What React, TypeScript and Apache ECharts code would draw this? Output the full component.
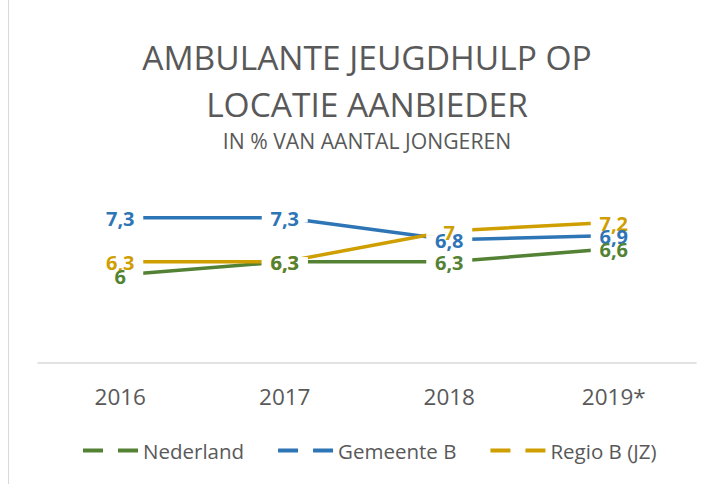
import React, { useEffect, useRef } from "react";
import * as echarts from "echarts";

const categories = ["2016", "2017", "2018", "2019*"];
const nederland = [6, 6.3, 6.3, 6.6];
const gemeenteB = [7.3, 7.3, 6.8, 6.9];
const regioB = [6.3, 6.3, 7, 7.2];

const seriesNames = ["Nederland", "Gemeente B", "Regio B (JZ)"];
const seriesColors = ["#548235", "#2E75B6", "#CF9E00"];
const seriesData = [nederland, gemeenteB, regioB];

const fmt = (v: number) => String(v).replace(".", ",");

export default function App() {
  const ref = useRef<HTMLDivElement>(null);
  useEffect(() => {
    if (!ref.current) return;
    const chart = echarts.init(ref.current, undefined, { renderer: "svg" });
    const lineSeries = seriesData.map((d, i) => ({
      type: "line",
      name: seriesNames[i],
      data: d,
      z: 2,
      showSymbol: false,
      symbol: "none",
      lineStyle: { color: seriesColors[i], width: 3.5 },
      itemStyle: { color: seriesColors[i] },
      silent: true,
    }));
    const gapSeries = seriesData.map((d, i) => ({
      type: "scatter",
      name: "gap" + i,
      data: d,
      z: 3,
      symbol: "rect",
      symbolSize: [46, 9],
      itemStyle: { color: "#ffffff", opacity: 1 },
      silent: true,
    }));
    // label order: gold first, then blue, then green on top
    const labelOrder = [2, 1, 0];
    const labelSeries = labelOrder.map((i, k) => ({
      type: "scatter",
      name: "label" + i,
      data: seriesData[i],
      z: 4 + k,
      symbolSize: 0,
      silent: true,
      itemStyle: { color: seriesColors[i], opacity: 1 },
      label: {
        show: true,
        position: "inside",
        offset: [0, 1],
        color: seriesColors[i],
        opacity: 1,
        textBorderWidth: 0,
        fontFamily: "Open Sans",
        fontWeight: "bold",
        fontSize: 20,
        formatter: (p: any) => fmt(p.value),
      },
    }));
    chart.setOption({
      animation: false,
      backgroundColor: "#ffffff",
      title: {
        text: "AMBULANTE JEUGDHULP OP\nLOCATIE AANBIEDER",
        subtext: "IN % VAN AANTAL JONGEREN",
        left: 362,
        textAlign: "center",
        top: 28,
        itemGap: 1,
        textStyle: {
          fontFamily: "Open Sans",
          fontWeight: "normal",
          fontSize: 33.5,
          lineHeight: 47,
          color: "#595959",
        },
        subtextStyle: {
          fontFamily: "Open Sans",
          fontSize: 21.2,
          lineHeight: 24,
          color: "#595959",
        },
      },
      legend: {
        data: seriesNames,
        left: 83,
        top: 440,
        padding: 0,
        itemWidth: 55,
        itemHeight: 4,
        itemGap: 34,
        icon: "path://M0,0H20V4H0Z M35,0H55V4H35Z",
        textStyle: {
          fontFamily: "Open Sans",
          fontSize: 20.5,
          color: "#595959",
        },
      },
      grid: { left: 38, right: 23, top: 187, bottom: 121 },
      xAxis: {
        type: "category",
        data: categories,
        boundaryGap: true,
        axisTick: { show: false },
        axisLine: { lineStyle: { color: "#d9d9d9", width: 1.5 } },
        axisLabel: {
          fontFamily: "Open Sans",
          fontSize: 22.5,
          color: "#595959",
          margin: 22,
        },
      },
      yAxis: {
        type: "value",
        min: 4,
        max: 8,
        show: false,
        splitLine: { show: false },
      },
      graphic: [
        {
          type: "line",
          shape: { x1: 8.5, y1: 0, x2: 8.5, y2: 484 },
          style: { stroke: "#d9d9d9", lineWidth: 1 },
          silent: true,
        },
      ],
      series: [...lineSeries, ...gapSeries, ...labelSeries],
    });
    return () => chart.dispose();
  }, []);
  return (
    <div
      ref={ref}
      style={{ position: "fixed", left: 0, top: 0, width: 719, height: 484 }}
    />
  );
}
